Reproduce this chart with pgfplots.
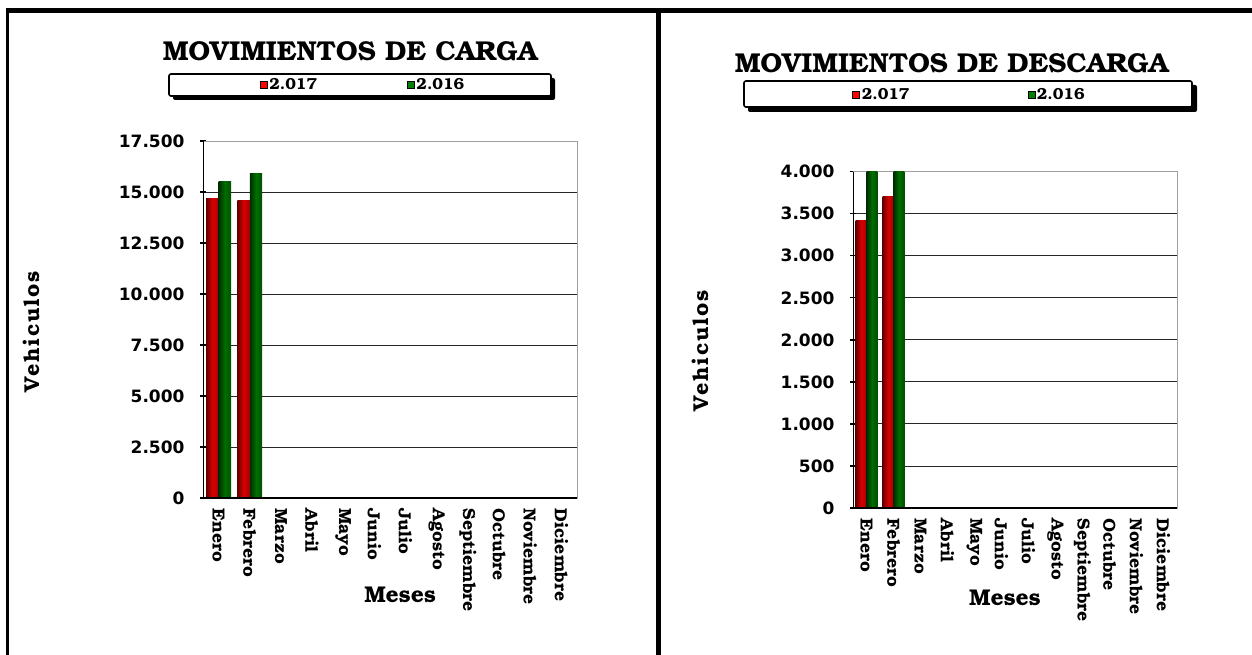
\documentclass[border=0pt]{standalone}
\usepackage{fontspec}
\setmainfont{TeX Gyre Bonum}
\newfontfamily\tickfont{DejaVu Sans}
\usepackage{pgfplots}
\pgfplotsset{compat=1.18}
\definecolor{rdark}{RGB}{100,0,0}
\definecolor{rmid}{RGB}{215,0,0}
\definecolor{rright}{RGB}{170,0,0}
\definecolor{gdark}{RGB}{0,45,0}
\definecolor{gmid}{RGB}{0,110,0}
\definecolor{gright}{RGB}{0,80,0}
\definecolor{lgreen}{RGB}{0,128,0}
\pgfplotsset{
  mychart/.style={
    scale only axis,
    xmin=-0.5, xmax=11.5, ymin=0,
    scaled y ticks=false,
    /pgf/number format/1000 sep={.},
    /pgf/number format/assume math mode=true,
    tick pos=left,
    xtick={0,...,11},
    xticklabels={Enero,Febrero,Marzo,Abril,Mayo,Junio,Julio,Agosto,Septiembre,Octubre,Noviembre,Diciembre},
    xticklabel shift=4pt,
    x tick label style={rotate=-90, anchor=west, font=\bfseries\fontsize{17.5}{18}\selectfont},
    xtick style={draw=none},
    extra x ticks={-0.5,0.5,...,11.5},
    extra x tick labels={},
    extra x tick style={major tick length=6pt, tick align=center, tick style={black, line width=1.3pt}, grid=none, tick pos=left},
    y tick label style={font=\tickfont\bfseries\fontsize{17}{17}\selectfont, xshift=-12pt},
    ytick style={black, line width=1.3pt},
    major tick length=6pt, tick align=center,
    ymajorgrids, major grid style={black!85, line width=0.9pt},
    axis line style={draw=gray!75, line width=0.9pt},
    title style={font=\bfseries\fontsize{27.3}{28}\selectfont, anchor=center, yshift=-5.5pt},
    xlabel style={font=\bfseries\fontsize{22.8}{23}\selectfont, anchor=center},
    ylabel style={font=\bfseries\addfontfeature{LetterSpace=8}\fontsize{21.5}{22}\selectfont, anchor=center},
    legend columns=2,
    legend style={draw=none, fill=none, anchor=center,
      font=\bfseries\fontsize{16}{16}\selectfont},
  },
  redbar/.style={ybar, bar width=0.4, bar shift=-0.2, draw=none, forget plot,
    left color=rdark, right color=rright, middle color=rmid},
  greenbar/.style={ybar, bar width=0.4, bar shift=0.2, draw=none, forget plot,
    left color=gdark, right color=gright, middle color=gmid},
  redleg/.style={legend image code/.code={\draw[fill=red, draw=black, line width=0.4pt] (0pt,-3.5pt) rectangle (7pt,3.5pt);}},
  greenleg/.style={legend image code/.code={\draw[fill=lgreen, draw=black, line width=0.4pt] (0pt,-3.5pt) rectangle (7pt,3.5pt);}},
}
\begin{document}
\begin{tikzpicture}
\path[use as bounding box] (0pt,0pt) rectangle (1252pt,-655pt);
\fill[white] (0pt,0pt) rectangle (1252pt,-655pt);
% frame lines
\draw[line width=5pt] (6pt,-10.5pt) -- (1252pt,-10.5pt);
\draw[line width=3pt] (7.5pt,-9pt) -- (7.5pt,-655pt);
\draw[line width=5pt] (658pt,-9pt) -- (658pt,-655pt);
% legend boxes with shadow
\fill[black, rounded corners=2pt] (173pt,-78pt) rectangle (555pt,-100pt);
\draw[black, fill=white, line width=1.6pt, rounded corners=2pt] (169pt,-74pt) rectangle (551pt,-96pt);
\fill[black, rounded corners=2pt] (748pt,-85pt) rectangle (1197pt,-112pt);
\draw[black, fill=white, line width=1.6pt, rounded corners=2pt] (744pt,-81pt) rectangle (1192pt,-107pt);

\begin{axis}[mychart,
  at={(203pt,-498pt)}, anchor=south west,
  width=374pt, height=357pt,
  ymax=17500, ytick={0,2500,...,17500},
  title={MOVIMIENTOS DE CARGA},
  title style={at={(rel axis cs:0.393,1.249)}},
  xlabel={Meses}, xlabel style={at={(rel axis cs:0.527,-0.272)}},
  ylabel={Vehiculos}, ylabel style={at={(rel axis cs:-0.46,0.465)}},
  legend style={at={(rel axis cs:0.428,1.157)},
    /tikz/every even column/.append style={column sep=88pt}},
]
\addlegendimage{redleg}
\addlegendentry{2.017}
\addlegendimage{greenleg}
\addlegendentry{2.016}
\addplot[redbar] coordinates {(0,14700)};
\addplot[redbar] coordinates {(1,14580)};
\addplot[greenbar] coordinates {(0,15500)};
\addplot[greenbar] coordinates {(1,15900)};
\draw[black, line width=1.4pt] (rel axis cs:0,1) -- (rel axis cs:0,0) -- (rel axis cs:1,0);
\end{axis}

\begin{axis}[mychart,
  at={(853pt,-508pt)}, anchor=south west,
  width=324pt, height=336.3pt,
  ymax=4000, ytick={0,500,...,4000},
  title={MOVIMIENTOS DE DESCARGA},
  title style={at={(rel axis cs:0.304,1.32)}},
  xlabel={Meses}, xlabel style={at={(rel axis cs:0.469,-0.268)}},
  ylabel={Vehiculos}, ylabel style={at={(rel axis cs:-0.472,0.467)}},
  legend style={at={(rel axis cs:0.3596,1.228)},
    /tikz/every even column/.append style={column sep=116pt}},
]
\addlegendimage{redleg}
\addlegendentry{2.017}
\addlegendimage{greenleg}
\addlegendentry{2.016}
\addplot[redbar] coordinates {(0,3420)};
\addplot[redbar] coordinates {(1,3700)};
\addplot[greenbar] coordinates {(0,4250)};
\addplot[greenbar] coordinates {(1,4350)};
\draw[black, line width=1.4pt] (rel axis cs:0,1) -- (rel axis cs:0,0) -- (rel axis cs:1,0);
\end{axis}
\end{tikzpicture}
\end{document}
